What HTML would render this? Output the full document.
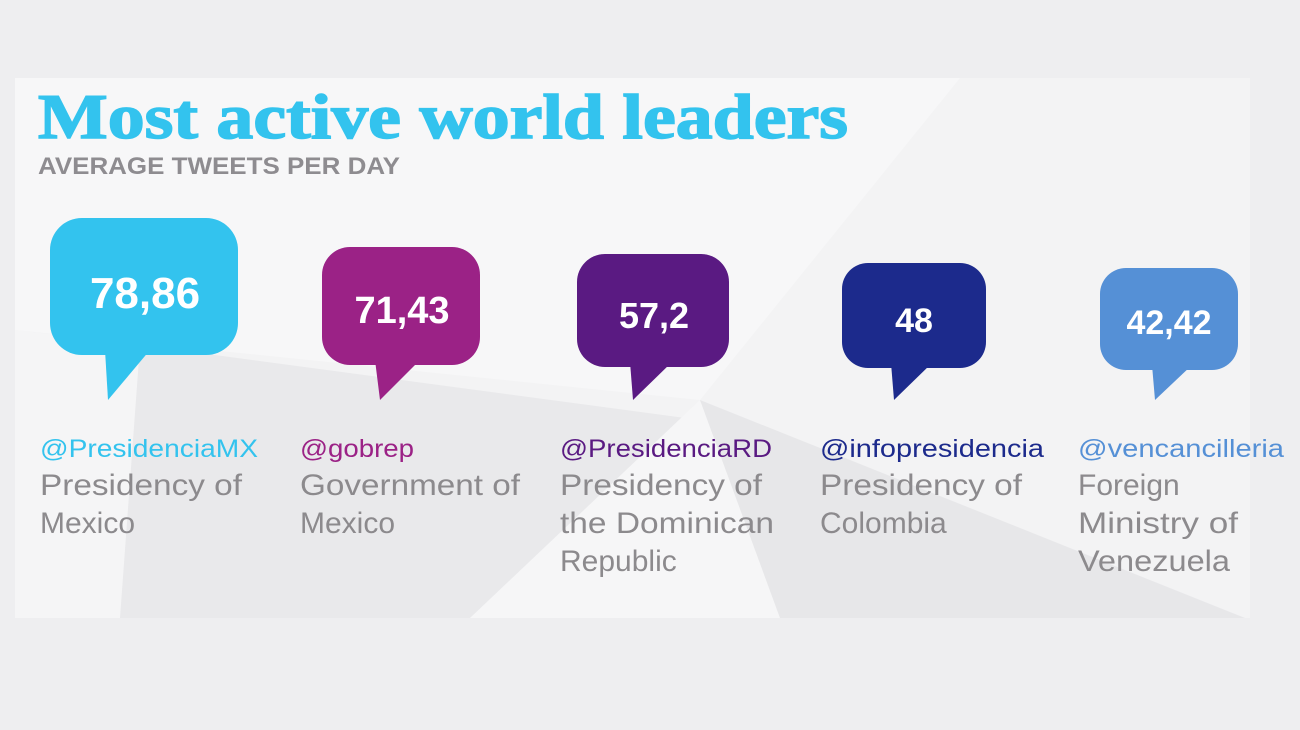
<!DOCTYPE html>
<html><head><style>body{margin:0;background:#eeeef0}svg{display:block}</style></head><body>
<svg width="1300" height="730" xmlns="http://www.w3.org/2000/svg">
<rect width="1300" height="730" fill="#eeeef0"/>
<rect x="15" y="78" width="1235" height="540" fill="#f3f3f4"/>
<polygon points="15,78 960,78 700,400 15,330" fill="#f7f7f8"/>
<polygon points="15,330 140,345 120,618 15,618" fill="#f5f5f6"/>
<polygon points="140,345 700,420 470,618 120,618" fill="#e9e9eb"/>
<polygon points="700,400 780,618 470,618" fill="#f6f6f7"/>
<polygon points="700,400 1245,618 780,618" fill="#e7e7e9"/>
<g font-family="Liberation Serif, serif" font-weight="bold">
<text x="38" y="138" font-size="64" fill="#33c3ee" stroke="#33c3ee" stroke-width="1.5" textLength="810" lengthAdjust="spacingAndGlyphs">Most active world leaders</text>
</g>
<g font-family="Liberation Sans, sans-serif">
<text x="38" y="174" font-size="24" font-weight="bold" fill="#8e8c90" textLength="362" lengthAdjust="spacingAndGlyphs">AVERAGE TWEETS PER DAY</text>
</g>
<g>
<rect x="50" y="218" width="188" height="137" rx="32" fill="#33c3ee"/><polygon points="105,350 150,350 108,400" fill="#33c3ee"/>
<rect x="322" y="247" width="158" height="118" rx="28" fill="#9b2286"/><polygon points="375,360 420,360 380,400" fill="#9b2286"/>
<rect x="577" y="254" width="152" height="113" rx="28" fill="#5a1a82"/><polygon points="630,362 672,362 633,400" fill="#5a1a82"/>
<rect x="842" y="263" width="144" height="105" rx="26" fill="#1c2a8c"/><polygon points="891,363 932,363 894,400" fill="#1c2a8c"/>
<rect x="1100" y="268" width="138" height="102" rx="26" fill="#5590d6"/><polygon points="1152,365 1192,365 1155,400" fill="#5590d6"/>
</g>
<g font-family="Liberation Sans, sans-serif" font-weight="bold" fill="#fff" text-anchor="middle">
<text x="145" y="308" font-size="44">78,86</text>
<text x="402" y="323" font-size="38">71,43</text>
<text x="654" y="328" font-size="36">57,2</text>
<text x="914" y="332" font-size="34">48</text>
<text x="1169" y="334" font-size="34">42,42</text>
</g>
<g font-family="Liberation Sans, sans-serif" font-size="25">
<text x="40" y="457" fill="#33c3ee" textLength="218" lengthAdjust="spacingAndGlyphs">@PresidenciaMX</text>
<text x="300" y="457" fill="#9b2286" textLength="114" lengthAdjust="spacingAndGlyphs">@gobrep</text>
<text x="560" y="457" fill="#5a1a82" textLength="212" lengthAdjust="spacingAndGlyphs">@PresidenciaRD</text>
<text x="820" y="457" fill="#1c2a8c" textLength="224" lengthAdjust="spacingAndGlyphs">@infopresidencia</text>
<text x="1078" y="457" fill="#5590d6" textLength="206" lengthAdjust="spacingAndGlyphs">@vencancilleria</text>
</g>
<g font-family="Liberation Sans, sans-serif" font-size="30" fill="#8c8a8d">
<text x="40" y="495" textLength="202" lengthAdjust="spacingAndGlyphs">Presidency of</text>
<text x="40" y="533">Mexico</text>
<text x="300" y="495" textLength="220" lengthAdjust="spacingAndGlyphs">Government of</text>
<text x="300" y="533">Mexico</text>
<text x="560" y="495" textLength="202" lengthAdjust="spacingAndGlyphs">Presidency of</text>
<text x="560" y="533" textLength="214" lengthAdjust="spacingAndGlyphs">the Dominican</text>
<text x="560" y="571">Republic</text>
<text x="820" y="495" textLength="202" lengthAdjust="spacingAndGlyphs">Presidency of</text>
<text x="820" y="533">Colombia</text>
<text x="1078" y="495">Foreign</text>
<text x="1078" y="533" textLength="160" lengthAdjust="spacingAndGlyphs">Ministry of</text>
<text x="1078" y="571" textLength="152" lengthAdjust="spacingAndGlyphs">Venezuela</text>
</g>
</svg>
</body></html>
